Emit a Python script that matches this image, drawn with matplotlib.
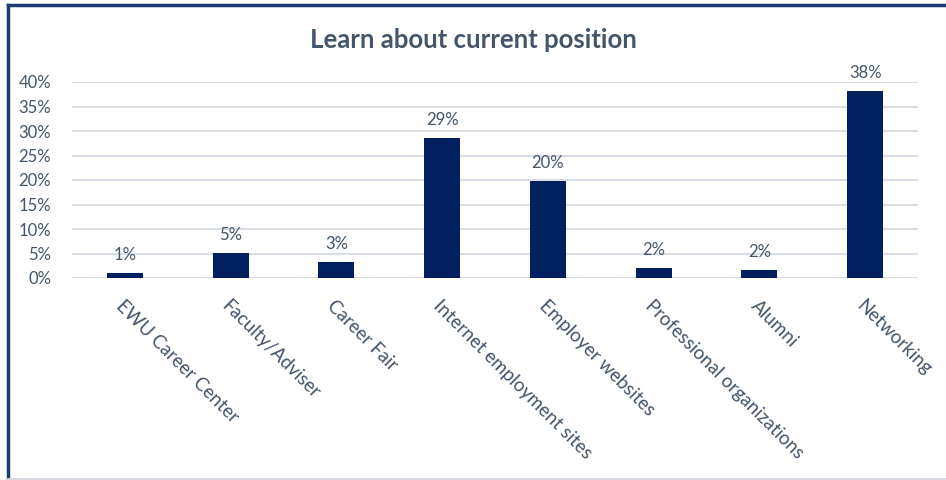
import matplotlib.pyplot as plt
from matplotlib.lines import Line2D

# categories and shares
categorias = ['EWU Career Center', 'Faculty/Adviser', 'Career Fair',
              'Internet employment sites', 'Employer websites',
              'Professional organizations', 'Alumni', 'Networking']
valores = [0.010, 0.051, 0.033, 0.286, 0.198, 0.020, 0.016, 0.382]
rotulos = ['1%', '5%', '3%', '29%', '20%', '2%', '2%', '38%']
ticks_y = [0, 0.05, 0.10, 0.15, 0.20, 0.25, 0.30, 0.35, 0.40]

cor_texto = '#44546A'
cor_barra = '#002060'
plt.rcParams['font.family'] = ['Lato', 'DejaVu Sans']

fig = plt.figure(figsize=(9.46, 4.8), dpi=100)
ax = fig.add_axes([72 / 946, 1 - 278 / 480, 846 / 946, 196 / 480])

x = range(len(categorias))
ax.bar(x, valores, width=0.34, color=cor_barra, zorder=3)
for xi, v, r in zip(x, valores, rotulos):
    ax.annotate(r, (xi, v), xytext=(0, 7), textcoords='offset points',
                ha='center', va='bottom', fontsize=12, color=cor_texto)

ax.set_xlim(-0.5, len(categorias) - 0.5)
ax.set_ylim(0, 0.40)
ax.set_yticks(ticks_y)
ax.set_yticklabels([f'{int(round(t * 100))}%' for t in ticks_y],
                   fontsize=12, color=cor_texto)
ax.set_xticks(list(x))
ax.set_xticklabels(categorias, rotation=-45, ha='left', va='top',
                   rotation_mode='anchor', fontsize=13.5, color=cor_texto)
ax.tick_params(axis='both', length=0)
ax.tick_params(axis='x', pad=14)
ax.tick_params(axis='y', pad=15)
ax.yaxis.grid(True, color='#D9DEE6', linewidth=1.5, zorder=0)
ax.set_axisbelow(True)
for s in ax.spines.values():
    s.set_visible(False)
ax.axhline(0, color='#D9DEE6', linewidth=1.5, zorder=1)

fig.text(0.5, 1 - 40 / 480, 'Learn about current position', ha='center',
         va='center', fontsize=18.5, fontweight='bold', color=cor_texto)

# moldura
fig.add_artist(Line2D([7.5 / 946, 7.5 / 946], [0, 1 - 5 / 480],
                      transform=fig.transFigure, color='#1F3B73', linewidth=2.5))
fig.add_artist(Line2D([7.5 / 946, 1], [1 - 5 / 480, 1 - 5 / 480],
                      transform=fig.transFigure, color='#1F3B73', linewidth=2.5))
fig.add_artist(Line2D([7.5 / 946, 1], [1.5 / 480, 1.5 / 480],
                      transform=fig.transFigure, color='#D9D9E3', linewidth=2))

fig.savefig('out.png', dpi=100)
